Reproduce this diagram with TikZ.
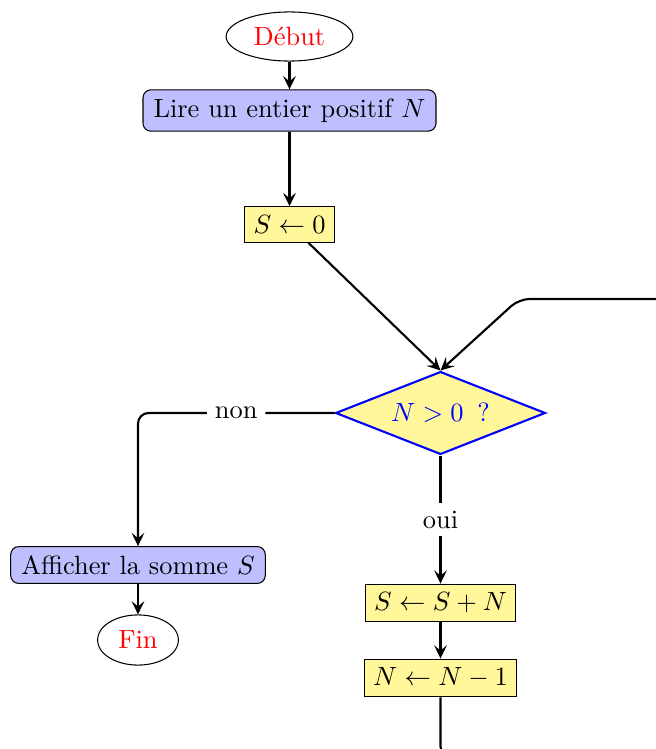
\documentclass[tikz,border=0pt]{standalone}
\usetikzlibrary{shapes.geometric,arrows.meta}
\definecolor{boxblue}{rgb}{0.75,0.75,1}
\definecolor{boxyellow}{RGB}{255,247,153}
\begin{document}
\begin{tikzpicture}[x=0.3788pt,y=-0.3788pt,
  startstop/.style={draw=black,ellipse,inner sep=0pt,text=red},
  iobox/.style={draw=black,fill=boxblue,rounded corners=3pt,inner xsep=4pt},
  actbox/.style={draw=black,fill=boxyellow},
  decbox/.style={draw=blue,thick,fill=boxyellow,diamond,aspect=2.5,inner sep=1pt,text=blue,minimum width=79.5pt,minimum height=31.4pt},
  flow/.style={thick,-{Stealth[length=5pt,width=4.8pt,inset=2pt]}},
  lbl/.style={fill=white,inner sep=3pt}]
\useasboundingbox (0,0) rectangle (656,749);
\clip (0,0) rectangle (656,749);
\node[startstop,minimum width=48pt,minimum height=18.6pt] (debut) at (289.5,36.5) {Début};
\node[iobox] (lire) at (289.5,110.5) {Lire un entier positif $N$};
\node[actbox] (s0) at (289.5,224.5) {$S\leftarrow 0$};
\node[decbox] (dec) at (440.5,413) {$N>0$\hspace{5.2pt}?};
\node[iobox] (aff) at (138,565) {Afficher la somme $S$};
\node[startstop,minimum width=30.7pt,minimum height=19pt] (fin) at (138,640) {Fin};
\node[actbox] (ssn) at (440.5,603) {$S\leftarrow S+N$};
\node[actbox] (nn1) at (440.5,678) {$N\leftarrow N-1$};
\coordinate (c1) at (440.5,757);
\coordinate (c2) at (690,757);
\coordinate (c3) at (690,299);
\coordinate (c4) at (519,299);
\draw[flow] (debut) -- (lire);
\draw[flow] (lire) -- (s0);
\draw[flow] (s0) -- (dec.north);
\draw[flow,rounded corners=4pt] (dec.west) -| node[lbl,pos=0.25]{non} (aff.north);
\draw[flow] (aff) -- (fin);
\draw[flow] (dec.south) -- node[lbl]{oui} (ssn.north);
\draw[flow] (ssn) -- (nn1);
\draw[flow,rounded corners=4pt] (nn1.south) -- (c1) -- (c2) -- (c3) -- (c4) -- (dec.north);
\end{tikzpicture}
\end{document}
